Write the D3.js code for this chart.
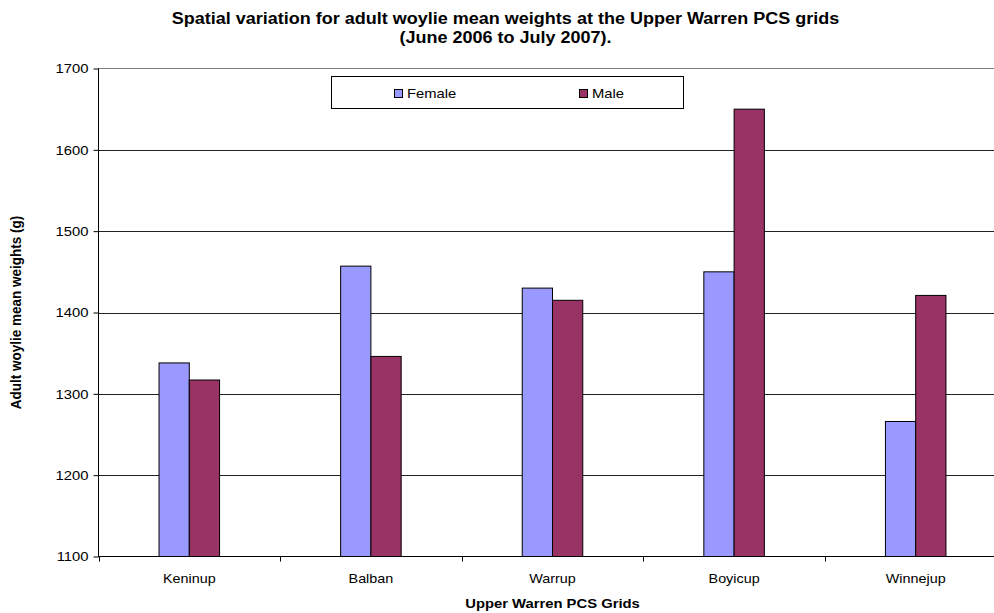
<!DOCTYPE html>
<html>
<head>
<meta charset="utf-8">
<script src="https://cdn.jsdelivr.net/npm/d3@7"></script>
<style>
  html, body { margin: 0; padding: 0; background: #fff; }
  svg { display: block; font-family: "Liberation Sans", Arial, sans-serif; }
</style>
</head>
<body>
<svg id="chart" width="994" height="613"></svg>
<script>
// Mean adult woylie weights (g) per Upper Warren PCS grid, June 2006 – July 2007
const grids = ["Keninup", "Balban", "Warrup", "Boyicup", "Winnejup"];
const series = ["Female", "Male"];
const femaleWeights = [1338, 1457, 1430, 1450, 1266];
const maleWeights = [1317, 1346, 1415, 1650, 1421];
const yTicks = [1100, 1200, 1300, 1400, 1500, 1600, 1700];
const colors = { Female: "#9999FF", Male: "#993366" };

const rows = grids.map((g, i) => ({ grid: g, Female: femaleWeights[i], Male: maleWeights[i] }));

const svg = d3.select("#chart");
const plot = { left: 98.5, right: 1006.5, top: 68.5, bottom: 556.5 };
const SX = 1.14; // text is drawn slightly wide

// place a text element at (x, y), widened horizontally about its anchor
function placeText(sel, x, y) {
  return sel.attr("x", 0).attr("y", 0)
    .attr("transform", `translate(${x},${y}) scale(${SX},1)`);
}

const x = d3.scaleBand().domain(grids).range([plot.left, plot.right]).padding(0);
const step = x.step();
const groupW = step / 3;
const xs = d3.scaleBand().domain(series)
  .range([step / 2 - groupW / 2, step / 2 + groupW / 2]).padding(0);
const y = d3.scaleLinear().domain([1100, 1700]).range([plot.bottom, plot.top]);

// plot area
svg.append("rect")
  .attr("x", plot.left).attr("y", plot.top)
  .attr("width", plot.right - plot.left).attr("height", plot.bottom - plot.top)
  .attr("fill", "#fff").attr("stroke", "#808080").attr("stroke-width", 1);

// horizontal gridlines
svg.append("g")
  .selectAll("line")
  .data(yTicks.filter(t => t > 1100 && t < 1700))
  .join("line")
  .attr("x1", plot.left).attr("x2", plot.right)
  .attr("y1", d => Math.round(y(d)) + 0.5).attr("y2", d => Math.round(y(d)) + 0.5)
  .attr("stroke", "#222").attr("stroke-width", 1);

// bars
svg.append("g")
  .selectAll("g")
  .data(rows)
  .join("g")
  .attr("transform", d => `translate(${x(d.grid)},0)`)
  .selectAll("rect")
  .data(d => series.map(s => ({ s, v: d[s] })))
  .join("rect")
  .attr("x", d => xs(d.s))
  .attr("y", d => y(d.v))
  .attr("width", xs.bandwidth())
  .attr("height", d => y(1100) - y(d.v))
  .attr("fill", d => colors[d.s])
  .attr("stroke", "#000").attr("stroke-width", 1);

// y axis
const yAxis = svg.append("g")
  .attr("transform", `translate(${plot.left},0)`)
  .call(d3.axisLeft(y).tickValues(yTicks).tickSize(5).tickPadding(4).tickFormat(d3.format("d")));
yAxis.selectAll("text")
  .attr("font-size", 13).attr("fill", "#000")
  .attr("font-family", '"Liberation Sans", Arial, sans-serif')
  .attr("dy", "0.34em")
  .each(function () { placeText(d3.select(this), -10, 0); });
yAxis.selectAll("line, path").attr("stroke", "#000");
yAxis.select(".domain").attr("d", `M0,${plot.top}V${plot.bottom}`);

// x axis with ticks at category boundaries
const xAxis = svg.append("g").attr("transform", `translate(0,${plot.bottom})`);
xAxis.append("line")
  .attr("x1", plot.left).attr("x2", plot.right)
  .attr("stroke", "#000");
xAxis.selectAll("line.tick")
  .data(grids)
  .join("line")
  .attr("class", "tick")
  .attr("x1", d => Math.round(x(d)) + 0.5).attr("x2", d => Math.round(x(d)) + 0.5)
  .attr("y1", 0).attr("y2", 5)
  .attr("stroke", "#000");
xAxis.selectAll("text")
  .data(grids)
  .join("text")
  .attr("text-anchor", "middle")
  .attr("font-size", 12.6)
  .text(d => d)
  .each(function (d) { placeText(d3.select(this), x(d) + step / 2, 26); });

// axis titles
placeText(svg.append("text"), (plot.left + plot.right) / 2, 608)
  .attr("text-anchor", "middle")
  .attr("font-size", 13).attr("font-weight", "bold")
  .text("Upper Warren PCS Grids");

svg.append("text")
  .attr("transform", `translate(21,${(plot.top + plot.bottom) / 2}) scale(${SX},1) rotate(-90)`)
  .attr("text-anchor", "middle")
  .attr("font-size", 13.5).attr("font-weight", "bold")
  .text("Adult woylie mean weights (g)");

// chart title (two lines)
const titleLines = [
  "Spatial variation for adult woylie mean weights at the Upper Warren PCS grids",
  "(June 2006 to July 2007)."
];
svg.append("g")
  .selectAll("text")
  .data(titleLines)
  .join("text")
  .attr("text-anchor", "middle")
  .attr("font-size", 15.8).attr("font-weight", "bold")
  .text(d => d)
  .each(function (d, i) { placeText(d3.select(this), 505.5, 24 + i * 18.5); });

// legend
const legend = svg.append("g");
legend.append("rect")
  .attr("x", 331.5).attr("y", 76.5).attr("width", 352).attr("height", 32)
  .attr("fill", "#fff").attr("stroke", "#000");
const legendX = { Female: 394.5, Male: 579.5 };
series.forEach(s => {
  legend.append("rect")
    .attr("x", legendX[s]).attr("y", 89.5).attr("width", 8).attr("height", 8)
    .attr("fill", colors[s]).attr("stroke", "#000");
  placeText(legend.append("text"), legendX[s] + 12.5, 98)
    .attr("font-size", 13)
    .text(s);
});
</script>
</body>
</html>
